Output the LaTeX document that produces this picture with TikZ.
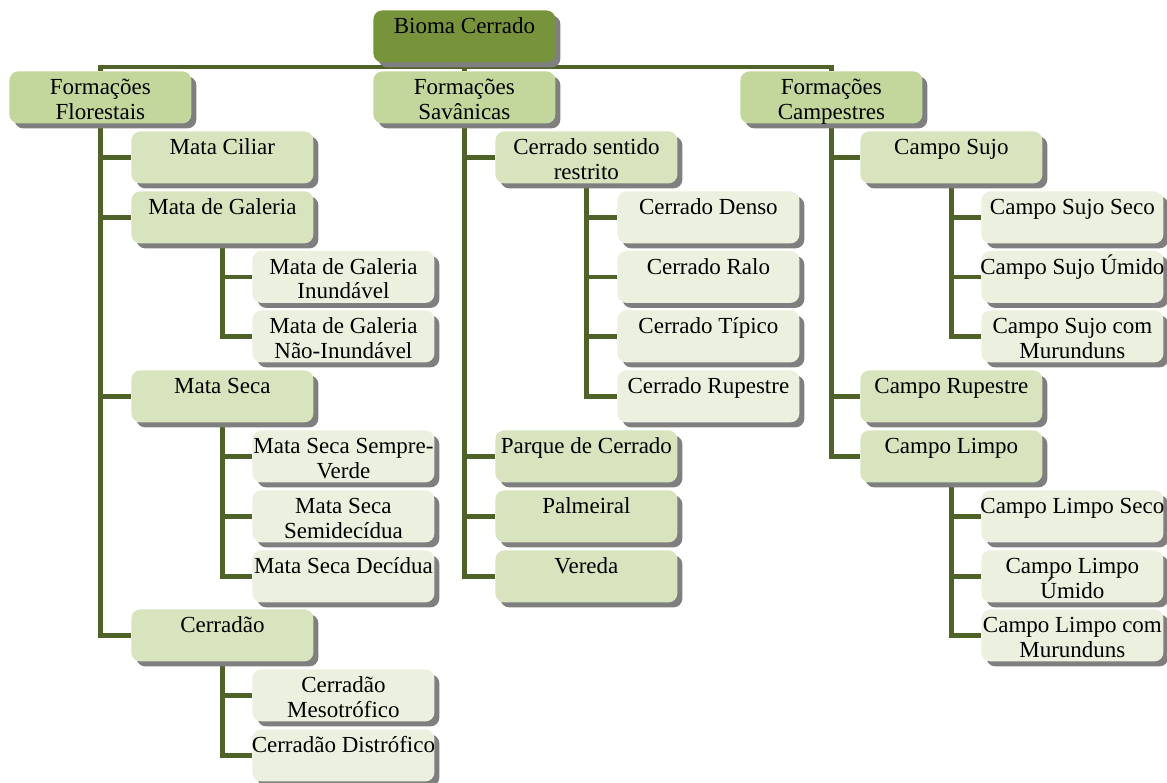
\documentclass[tikz,border=0pt]{standalone}
\usepackage{fontspec}
\setmainfont{Liberation Serif}
\usetikzlibrary{shadows}
\definecolor{cTop}{HTML}{77933C}
\definecolor{cOne}{HTML}{C3D69B}
\definecolor{cTwo}{HTML}{D7E4BD}
\definecolor{cThree}{HTML}{EBF1DE}
\definecolor{lineC}{HTML}{4F6228}
\definecolor{shadC}{HTML}{7F7F7F}
\pgfdeclarelayer{bg}
\pgfsetlayers{bg,main}
\newcommand\mkbox[5]{%
  \node[#4] (#1) at (#2,#3) {};
  \node[txt] (#1-t) at ([yshift=0.4pt]#1.north) {\rule{0pt}{12pt}#5};
}
\begin{document}
\begin{tikzpicture}[x=0.5pt,y=-0.5pt,
  boxbase/.style={draw=none, rounded corners=4.5pt, minimum width=91pt,
    minimum height=26pt, inner sep=0pt, anchor=north west,
    drop shadow={shadow xshift=2.5pt, shadow yshift=-2.5pt, fill=shadC, opacity=1}},
  lvtop/.style={boxbase, fill=cTop},
  lvone/.style={boxbase, fill=cOne},
  lvtwo/.style={boxbase, fill=cTwo},
  lvthree/.style={boxbase, fill=cThree},
  txt/.style={anchor=north, inner sep=0pt, align=center,
    font=\fontsize{11.5}{12.4}\selectfont},
  conn/.style={draw=lineC, line width=2.2pt}]
\useasboundingbox (0,0) rectangle (1167,782);

% root
\mkbox{bioma}{373}{10}{lvtop}{Bioma Cerrado}

% level 1
\mkbox{ff}{9}{71}{lvone}{Formações\\Florestais}
\mkbox{fs}{373}{71}{lvone}{Formações\\Savânicas}
\mkbox{fc}{740}{71}{lvone}{Formações\\Campestres}

% Florestais
\mkbox{ciliar}{131}{131}{lvtwo}{Mata Ciliar}
\mkbox{galeria}{131}{191}{lvtwo}{Mata de Galeria}
\mkbox{galinu}{252}{250.5}{lvthree}{Mata de Galeria\\Inundável}
\mkbox{galnao}{252}{310}{lvthree}{Mata de Galeria\\Não-Inundável}
\mkbox{seca}{131}{370}{lvtwo}{Mata Seca}
\mkbox{secasv}{252}{430}{lvthree}{Mata Seca Sempre-\\Verde}
\mkbox{secasd}{252}{490}{lvthree}{Mata Seca\\Semidecídua}
\mkbox{secad}{252}{550}{lvthree}{Mata Seca Decídua}
\mkbox{cerradao}{131}{609}{lvtwo}{Cerradão}
\mkbox{cmeso}{252}{669}{lvthree}{Cerradão\\Mesotrófico}
\mkbox{cdist}{252}{729}{lvthree}{Cerradão Distrófico}

% Savanicas
\mkbox{csr}{495}{131}{lvtwo}{Cerrado sentido\\restrito}
\mkbox{denso}{617}{191}{lvthree}{Cerrado Denso}
\mkbox{ralo}{617}{250.5}{lvthree}{Cerrado Ralo}
\mkbox{tipico}{617}{310}{lvthree}{Cerrado Típico}
\mkbox{rupc}{617}{370}{lvthree}{Cerrado Rupestre}
\mkbox{parque}{495}{430}{lvtwo}{Parque de Cerrado}
\mkbox{palm}{495}{490}{lvtwo}{Palmeiral}
\mkbox{vereda}{495}{550}{lvtwo}{Vereda}

% Campestres
\mkbox{sujo}{860}{131}{lvtwo}{Campo Sujo}
\mkbox{sseco}{981}{191}{lvthree}{Campo Sujo Seco}
\mkbox{sumido}{981}{250.5}{lvthree}{Campo Sujo Úmido}
\mkbox{smur}{981}{310}{lvthree}{Campo Sujo com\\Murunduns}
\mkbox{crup}{860}{370}{lvtwo}{Campo Rupestre}
\mkbox{limpo}{860}{430}{lvtwo}{Campo Limpo}
\mkbox{lseco}{981}{490}{lvthree}{Campo Limpo Seco}
\mkbox{lumido}{981}{550}{lvthree}{Campo Limpo\\Úmido}
\mkbox{lmur}{981}{609}{lvthree}{Campo Limpo com\\Murunduns}

\begin{pgfonlayer}{bg}
  \coordinate (hbar) at (465,67);
  \draw[conn] (bioma.south) -- (hbar);
  \foreach \c in {ff,fs,fc} \draw[conn] (hbar) -| (\c.north);
  \foreach \c in {ciliar,galeria,seca,cerradao} \draw[conn] (ff.south) |- (\c.west);
  \foreach \c in {galinu,galnao} \draw[conn] (galeria.south) |- (\c.west);
  \foreach \c in {secasv,secasd,secad} \draw[conn] (seca.south) |- (\c.west);
  \foreach \c in {cmeso,cdist} \draw[conn] (cerradao.south) |- (\c.west);
  \foreach \c in {csr,parque,palm,vereda} \draw[conn] (fs.south) |- (\c.west);
  \foreach \c in {denso,ralo,tipico,rupc} \draw[conn] (csr.south) |- (\c.west);
  \foreach \c in {sujo,crup,limpo} \draw[conn] (fc.south) |- (\c.west);
  \foreach \c in {sseco,sumido,smur} \draw[conn] (sujo.south) |- (\c.west);
  \foreach \c in {lseco,lumido,lmur} \draw[conn] (limpo.south) |- (\c.west);
\end{pgfonlayer}
\end{tikzpicture}
\end{document}
